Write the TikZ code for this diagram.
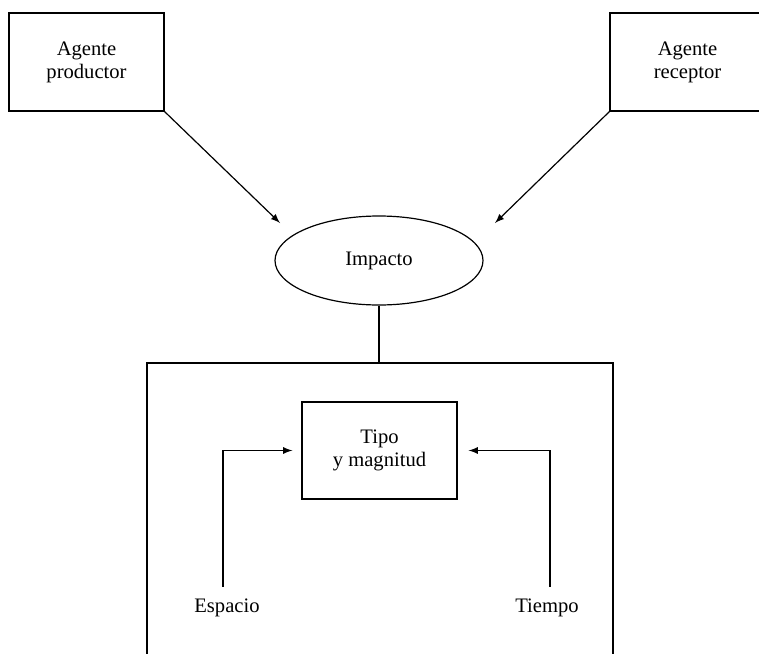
\documentclass[tikz,border=0pt]{standalone}
\usepackage{fontspec}
\setmainfont{Liberation Serif}
\usetikzlibrary{shapes.geometric}
\tikzset{
  caja/.style={draw,line width=0.6pt,align=center,inner sep=0pt},
  flecha/.style={->,line width=0.6pt},
  etiqueta/.style={inner sep=0pt,align=center}
}

\begin{document}
\begin{tikzpicture}[x=0.5pt,y=-0.5pt,>=latex,font=\fontsize{10.3}{11.5}\selectfont]
        \useasboundingbox (0,0) rectangle (759,653);
        % agentes
        \node[caja,minimum width=77.5pt,minimum height=49pt] (productor) at (86.5,62) {Agente\\productor};
        \node[caja,minimum width=77.5pt,minimum height=49pt] (receptor) at (687.5,62) {Agente\\receptor};
        % impacto
        \node[caja,ellipse,minimum width=104pt,minimum height=44.5pt] (impacto) at (379,260.5) {Impacto};
        \coordinate (llegaP) at (280,223);
        \coordinate (llegaR) at (495,223);
        \draw[flecha] (productor.south east) -- (llegaP);
        \draw[flecha] (receptor.south west) -- (llegaR);
        % marco inferior
        \node[caja,minimum width=233pt,minimum height=160pt] (marco) at (380,523) {};
        \draw[line width=0.6pt] (impacto.south) -- (impacto.south |- marco.north);
        % tipo y magnitud
        \node[caja,minimum width=77.5pt,minimum height=48.5pt] (tipo) at (379.5,450.5) {Tipo\\y magnitud};
        \node[etiqueta] (espacio) at (227,608) {Espacio};
        \node[etiqueta] (tiempo) at (547,608) {Tiempo};
        \draw[flecha,shorten >=4.5pt] ([xshift=-2pt,yshift=6pt]espacio.north) |- (tipo.west);
        \draw[flecha,shorten >=5.5pt] ([xshift=1.5pt,yshift=6pt]tiempo.north) |- (tipo.east);
    \end{tikzpicture}
\end{document}
